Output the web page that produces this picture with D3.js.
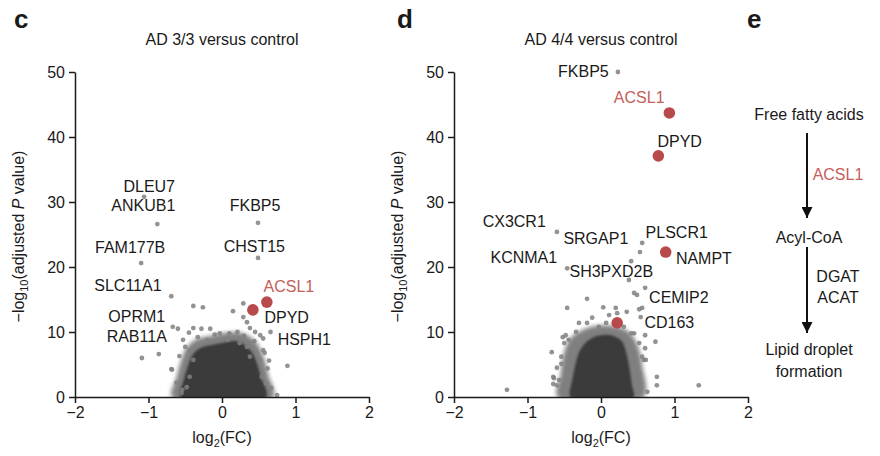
<!DOCTYPE html>
<html><head><meta charset="utf-8">
<script src="https://cdn.jsdelivr.net/npm/d3@7"></script>
<style>
body{margin:0;background:#fff}
svg{display:block}
text{font-family:"Liberation Sans",Arial,Helvetica,sans-serif;fill:#1a1a1a}
</style>
</head><body>
<svg id="chart" width="880" height="456"></svg>
<script>
// ---------------- DATA ----------------
const titles = ["AD 3/3 versus control", "AD 4/4 versus control"];
const xTicks = [-2, -1, 0, 1, 2];
const yTicks = [0, 10, 20, 30, 40, 50];

// Panel c: highlighted genes [gene, log2FC, -log10 adj P]
const cHighlight = [["ACSL1", 0.61, 14.6], ["DPYD", 0.42, 13.4]];
// Panel c: other visible points
const cPoints = [
  [-1.06,30.8],[-0.88,26.6],[0.49,26.8],[-1.10,20.6],[0.49,21.4],[-0.69,15.5],
  [-0.39,14.0],[-0.26,13.8],[0.29,14.4],[0.15,13.2],[0.29,12.3],
  [-1.09,6.0],[-0.86,6.6],[-0.67,10.8],[-0.60,10.5],[-0.69,4.3],[-0.55,0.6],
  [0.89,4.8],[0.75,0.3],[0.66,10.0],[0.58,6.8],[-0.39,10.6],[-0.28,10.5],
  [-0.16,10.5],[0.10,9.8],[0.21,10.0],[0.38,10.6],[0.52,9.5],[0.34,11.5],
  [0.45,10.0],[-0.53,8.8],[-0.50,7.7],[-0.44,7.2],[-0.68,4.2],[-0.54,1.1],
  [0.56,9.0],[0.56,7.2],[0.52,5.7],[0.54,3.1],[0.60,2.1],[0.08,8.8],
  [-0.20,8.8],[-0.33,9.2],[-0.03,9.8],[0.24,8.3],[0.34,7.7],[0.38,6.2],
  [-0.39,5.7],[-0.44,3.1],[-0.48,1.5],[-0.45,9.9],[0.44,8.6],[0.62,4.4],
  [-0.58,6.3],[-0.62,2.2],[0.64,5.6],[0.67,1.4],[-0.10,9.6],[0.30,9.4]
];
// Panel c: outline of the dense cloud (outer halo and dark core)
const cHalo = [[-0.68,0],[-0.62,3.0],[-0.56,5.5],[-0.48,7.6],[-0.35,8.9],[-0.16,9.4],
  [0,9.8],[0.18,10.0],[0.33,9.6],[0.48,8.2],[0.57,6.0],[0.63,3.4],[0.70,0]];
const cCore = [[-0.56,0],[-0.52,2.6],[-0.46,4.9],[-0.39,6.6],[-0.28,7.6],[-0.14,8.0],
  [0,8.3],[0.17,8.6],[0.28,8.2],[0.40,7.0],[0.47,5.3],[0.53,3.0],[0.60,0]];
// Panel c: gene label anchors (data units)
const cLabels = [
  ["DLEU7",-0.99,31.5],["ANKUB1",-1.07,28.6],["FKBP5",0.45,28.6],["FAM177B",-1.25,22.2],
  ["CHST15",0.44,22.3],["SLC11A1",-1.28,16.3],["ACSL1",0.91,16.2],["OPRM1",-1.16,11.5],
  ["DPYD",0.88,11.4],["RAB11A",-1.16,8.5],["HSPH1",1.12,8.0]
];

// Panel d
const dHighlight = [["ACSL1",0.93,43.7],["DPYD",0.78,37.1],["NAMPT",0.88,22.3],["CD163",0.22,11.4]];
const dPoints = [
  [0.23,50.0],[-0.60,25.4],[-0.46,19.8],[0.56,23.7],[0.53,22.3],[0.41,20.9],[0.38,18.0],
  [0.60,16.8],[0.45,16.0],[0.49,15.7],[-0.19,15.1],[0.03,13.8],[0.20,13.7],[0.56,13.7],
  [-0.46,13.7],[0.35,13.1],[0.52,13.5],[0.54,12.3],[0.60,9.5],[0.74,8.5],[1.33,1.8],
  [-1.28,1.1],[-0.67,6.9],[0.63,0.8],[0.76,3.1],[0.76,1.8],[-0.65,2.0],[-0.65,3.1],
  [-0.52,9.2],[-0.54,6.2],[0.58,5.7],[-0.30,11.4],[0.11,12.6],[0.22,12.9],[0.45,9.8],
  [0.60,7.5],[0.61,5.7],[-0.54,5.1],[-0.64,2.9],[-0.60,1.8],[-0.48,9.5],[-0.44,8.8],
  [-0.50,8.3],[-0.60,4.5],[-0.57,2.6],[0.52,8.3],[0.56,6.2],[0.52,3.7],[0.48,2.6],
  [0.31,10.8],[0.41,9.8],[-0.19,11.4],[-0.12,12.2],[-0.03,10.8],[0.07,11.4],[-0.34,10.0]
];
const dHalo = [[-0.59,0],[-0.55,3.4],[-0.51,6.5],[-0.42,9.0],[-0.24,10.4],[-0.03,11.0],
  [0.18,10.9],[0.37,10.1],[0.50,7.9],[0.56,4.9],[0.58,0]];
const dCore = [[-0.41,0],[-0.39,2.6],[-0.35,4.9],[-0.28,7.3],[-0.15,8.9],[0,9.5],
  [0.14,9.5],[0.28,8.6],[0.35,6.5],[0.39,4.2],[0.42,1.8],[0.44,0]];
const dLabels = [
  ["FKBP5",-0.24,49.2],["ACSL1",0.52,45.2],["DPYD",1.07,38.5],["CX3CR1",-1.18,26.2],
  ["SRGAP1",-0.07,23.5],["PLSCR1",1.03,24.5],["KCNMA1",-1.05,20.6],["NAMPT",1.40,20.5],
  ["SH3PXD2B",0.14,18.5],["CEMIP2",1.06,14.5],["CD163",0.93,10.6]
];

// Panel e pathway
const pathwaySteps = [["Free fatty acids"], ["Acyl-CoA"], ["Lipid droplet", "formation"]];
const pathwayEnzymes = [["ACSL1"], ["DGAT", "ACAT"]];

// ---------------- STYLE / LAYOUT ----------------
const RED = "#b94a4c", RED_TEXT = "#c2605a", GREY = "#808080";
const FS = 16;
const layouts = [
  {letter:"c", lx:14, x0:75, x1:369, data:{title:titles[0], hl:cHighlight, pts:cPoints, halo:cHalo, core:cCore, labels:cLabels}},
  {letter:"d", lx:397, x0:454, x1:748, data:{title:titles[1], hl:dHighlight, pts:dPoints, halo:dHalo, core:dCore, labels:dLabels}}
];
const yTop = 72, yBot = 397;

const svg = d3.select("#chart");
const defs = svg.append("defs");
defs.append("filter").attr("id","blurHalo").attr("x","-20%").attr("y","-20%").attr("width","140%").attr("height","140%")
  .append("feGaussianBlur").attr("stdDeviation",2.0);
defs.append("filter").attr("id","blurCore").attr("x","-20%").attr("y","-20%").attr("width","140%").attr("height","140%")
  .append("feGaussianBlur").attr("stdDeviation",1.1);

layouts.forEach((L, i) => {
  const D = L.data;
  const x = d3.scaleLinear().domain([-2, 2]).range([L.x0, L.x1]);
  const y = d3.scaleLinear().domain([0, 50]).range([yBot, yTop]);
  const g = svg.append("g");

  defs.append("clipPath").attr("id","clip"+i).append("rect")
    .attr("x", L.x0).attr("y", yTop - 10).attr("width", L.x1 - L.x0).attr("height", yBot - yTop + 10);

  svg.append("text").attr("x", L.lx).attr("y", 28).attr("font-size", 26).attr("font-weight", "bold").text(L.letter);
  g.append("text").attr("x", x(0)).attr("y", 45).attr("text-anchor","middle").attr("font-size",FS).text(D.title);

  // dense cloud
  const line = d3.line().x(d => x(d[0])).y(d => y(d[1])).curve(d3.curveCatmullRomClosed);
  const cloud = g.append("g").attr("clip-path", `url(#clip${i})`);
  cloud.append("path").attr("d", line(D.halo)).attr("fill", "#4a4a4a").attr("opacity", 0.7).attr("filter","url(#blurHalo)");
  cloud.append("path").attr("d", line(D.core)).attr("fill", "#3a3a3a").attr("filter","url(#blurCore)");

  g.append("g").selectAll("circle").data(D.pts).join("circle")
    .attr("cx", d => x(d[0])).attr("cy", d => y(d[1])).attr("r", 2.4)
    .attr("fill", GREY).attr("opacity", 0.85);
  g.append("g").selectAll("circle").data(D.hl).join("circle")
    .attr("cx", d => x(d[1])).attr("cy", d => y(d[2])).attr("r", 5.8).attr("fill", RED);

  const ax = g.append("g").attr("transform", `translate(0,${yBot})`)
    .call(d3.axisBottom(x).tickValues(xTicks).tickSize(6).tickSizeOuter(0).tickPadding(4)
      .tickFormat(d => d < 0 ? "\u2212" + Math.abs(d) : d));
  const ay = g.append("g").attr("transform", `translate(${L.x0},0)`)
    .call(d3.axisLeft(y).tickValues(yTicks).tickSize(6).tickSizeOuter(0).tickPadding(4));
  [ax, ay].forEach(a => {
    a.selectAll("path,line").attr("stroke", "#1a1a1a").attr("stroke-width", 1.5);
    a.selectAll("text").attr("font-size", FS).attr("fill", "#1a1a1a")
      .attr("font-family", '"Liberation Sans",Arial,Helvetica,sans-serif');
  });

  const xl = g.append("text").attr("x", x(0)).attr("y", 443).attr("text-anchor","middle").attr("font-size",FS);
  xl.append("tspan").text("log");
  xl.append("tspan").attr("font-size",11).attr("dy",4).text("2");
  xl.append("tspan").attr("dy",-4).text("(FC)");

  const yl = g.append("text").attr("transform", `translate(${L.x0 - 51},${(yTop + yBot) / 2 + 2}) rotate(-90)`)
    .attr("text-anchor","middle").attr("font-size",FS);
  yl.append("tspan").text("\u2212log");
  yl.append("tspan").attr("font-size",11).attr("dy",4).text("10");
  yl.append("tspan").attr("dy",-4).text("(adjusted ");
  yl.append("tspan").attr("font-style","italic").text("P");
  yl.append("tspan").text(" value)");

  g.append("g").selectAll("text").data(D.labels).join("text")
    .attr("x", d => x(d[1])).attr("y", d => y(d[2])).attr("text-anchor","middle").attr("font-size",FS)
    .style("fill", d => d[0] === "ACSL1" ? RED_TEXT : "#1a1a1a")
    .text(d => d[0]);
});

// ---------------- Panel e ----------------
svg.append("text").attr("x", 747).attr("y", 28).attr("font-size", 26).attr("font-weight","bold").text("e");
const ex = 809;
const stepY = [120, 243, 355];
const eg = svg.append("g");
pathwaySteps.forEach((lines, k) => {
  lines.forEach((t, j) => eg.append("text").attr("x", ex).attr("y", stepY[k] + j * 22)
    .attr("text-anchor","middle").attr("font-size",FS).text(t));
});
defs.append("marker").attr("id","arrow").attr("viewBox","0 0 10 10").attr("refX",10).attr("refY",5)
  .attr("markerWidth",5.5).attr("markerHeight",5.5).attr("markerUnits","strokeWidth").attr("orient","auto")
  .append("path").attr("d","M0,0 L10,5 L0,10 Z").attr("fill","#111");
const arrows = [[133, 218], [247, 333]];
arrows.forEach(a => eg.append("line").attr("x1", 807).attr("x2", 807).attr("y1", a[0]).attr("y2", a[1])
  .attr("stroke","#111").attr("stroke-width",2).attr("marker-end","url(#arrow)"));
const enzY = [180, 282];
pathwayEnzymes.forEach((lines, k) => {
  lines.forEach((t, j) => eg.append("text").attr("x", 838).attr("y", enzY[k] + j * 21)
    .attr("text-anchor","middle").attr("font-size",FS)
    .style("fill", t === "ACSL1" ? RED_TEXT : "#1a1a1a").text(t));
});
</script>
</body></html>
